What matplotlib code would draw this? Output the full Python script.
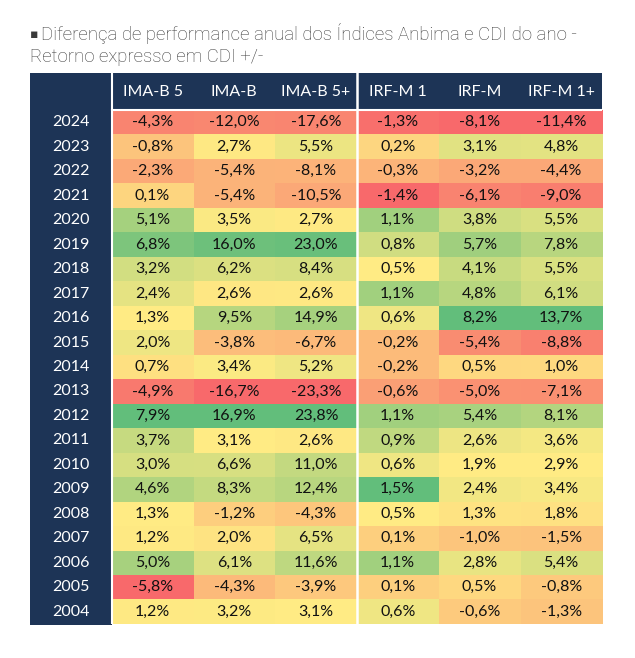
import numpy as np
import matplotlib
matplotlib.use("Agg")
import matplotlib.pyplot as plt
from matplotlib.patches import Rectangle

years = [2024, 2023, 2022, 2021, 2020, 2019, 2018, 2017, 2016, 2015, 2014,
         2013, 2012, 2011, 2010, 2009, 2008, 2007, 2006, 2005, 2004]
indices = ["IMA-B 5", "IMA-B", "IMA-B 5+", "IRF-M 1", "IRF-M", "IRF-M 1+"]

ima_b5 = [-4.3, -0.8, -2.3, 0.1, 5.1, 6.8, 3.2, 2.4, 1.3, 2.0, 0.7,
          -4.9, 7.9, 3.7, 3.0, 4.6, 1.3, 1.2, 5.0, -5.8, 1.2]
ima_b = [-12.0, 2.7, -5.4, -5.4, 3.5, 16.0, 6.2, 2.6, 9.5, -3.8, 3.4,
         -16.7, 16.9, 3.1, 6.6, 8.3, -1.2, 2.0, 6.1, -4.3, 3.2]
ima_b5p = [-17.6, 5.5, -8.1, -10.5, 2.7, 23.0, 8.4, 2.6, 14.9, -6.7, 5.2,
           -23.3, 23.8, 2.6, 11.0, 12.4, -4.3, 6.5, 11.6, -3.9, 3.1]
irfm1 = [-1.3, 0.2, -0.3, -1.4, 1.1, 0.8, 0.5, 1.1, 0.6, -0.2, -0.2,
         -0.6, 1.1, 0.9, 0.6, 1.5, 0.5, 0.1, 1.1, 0.1, 0.6]
irfm = [-8.1, 3.1, -3.2, -6.1, 3.8, 5.7, 4.1, 4.8, 8.2, -5.4, 0.5,
        -5.0, 5.4, 2.6, 1.9, 2.4, 1.3, -1.0, 2.8, 0.5, -0.6]
irfm1p = [-11.4, 4.8, -4.4, -9.0, 5.5, 7.8, 5.5, 6.1, 13.7, -8.8, 1.0,
          -7.1, 8.1, 3.6, 2.9, 3.4, 1.8, -1.5, 5.4, -0.8, -1.3]

bullet = "\u25aa"
title_1 = "Diferença de performance anual dos Índices Anbima e CDI do ano -"
title_2 = "Retorno expresso em CDI +/-"

navy = "#1d3456"
red = np.array([248, 105, 107]) / 255
yellow = np.array([255, 235, 132]) / 255
green = np.array([99, 190, 123]) / 255


def scale_colors(col):
    # excel style 3 colour scale: min / 50th percentile / max
    col = np.asarray(col)
    lo, mid, hi = col.min(), np.percentile(col, 50), col.max()
    out = []
    for v in col:
        if v <= mid:
            t = (v - lo) / (mid - lo) if mid > lo else 1.0
            out.append(red + t * (yellow - red))
        else:
            t = (v - mid) / (hi - mid)
            out.append(yellow + t * (green - yellow))
    return np.array(out)


data = np.column_stack([ima_b5, ima_b, ima_b5p, irfm1, irfm, irfm1p])
colors = np.stack([scale_colors(data[:, j]) for j in range(data.shape[1])], axis=1)

W, H = 635, 658
fig = plt.figure(figsize=(W / 100, H / 100), dpi=100)

# axes spans year column + data columns, header + data rows
left, right, top, data_top, bottom = 30, 602, 73, 110, 624
ax = fig.add_axes([left / W, 1 - bottom / H, (right - left) / W, (bottom - top) / H])
nrows, ncols = data.shape
hdr = (data_top - top) / ((bottom - data_top) / nrows)
ax.set_xlim(-1, ncols)
ax.set_ylim(nrows, -hdr)
ax.axis("off")

ax.add_patch(Rectangle((-1, -hdr), ncols + 1, hdr, color=navy, lw=0))
ax.add_patch(Rectangle((-1, 0), 1, nrows + 0.05, color=navy, lw=0, clip_on=False))
ax.imshow(colors, extent=(0, ncols, nrows, 0), aspect="auto", interpolation="nearest")

ax.axvline(0, color="white", lw=1.5)
ax.axvline(3, color="white", lw=1.8)
ax.axhline(0, xmin=1 / (ncols + 1), color="white", lw=1.5)

cell_font = ["Lato", "DejaVu Sans"]
for j, name in enumerate(indices):
    ax.text(j + 0.5, -hdr / 2, name, ha="center", va="center", color="white",
            fontsize=11.5, family=cell_font)
for i, yr in enumerate(years):
    ax.text(-0.5, i + 0.5, str(yr), ha="center", va="center", color="white",
            fontsize=11.5, family=cell_font)
    for j in range(ncols):
        txt = f"{data[i, j]:.1f}%".replace(".", ",")
        ax.text(j + 0.5, i + 0.5, txt, ha="center", va="center", color="#111111",
                fontsize=11.5, family=cell_font)

title_font = dict(fontsize=13.4, color="#3a3a3a", family=["Roboto", "DejaVu Sans"],
                  fontweight="light", va="center", ha="left")
fig.text(30 / W, 1 - 34 / H, bullet, fontsize=9, color="#3a3a3a",
         family=["DejaVu Sans"], va="center", ha="left")
fig.text(41 / W, 1 - 34 / H, title_1, **title_font)
fig.text(30 / W, 1 - 57 / H, title_2, **title_font)

fig.savefig("out.png", dpi=100)
